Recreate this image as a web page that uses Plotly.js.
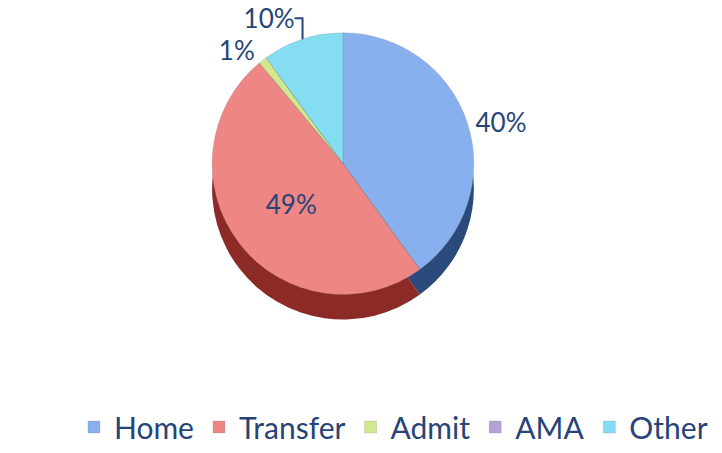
<!DOCTYPE html>
<html>
<head>
<meta charset="utf-8">
<script src="https://cdn.plot.ly/plotly-3.0.1.min.js"></script>
<style>
html,body{margin:0;padding:0;background:#fff;}
#chart{width:722px;height:453px;}
</style>
</head>
<body>
<div id="chart"></div>
<script>
const categories = ['Home', 'Transfer', 'Admit', 'AMA', 'Other'];
const values = [40, 49, 1, 0, 10];
const topColors = ['#88B0EE', '#EE8683', '#CFEA8C', '#B5A0D8', '#84DDF1'];
const sideColors = ['#2B4A7C', '#8C2A27', '#7E9A3E', '#5F4A80', '#2F8EA8'];
const labelPositions = ['outside', 'inside', 'outside', 'none', 'outside'];

const W = 722, H = 453;
const cx = 343, cy = 170, r = 136, depth = 26;
function dom(cxp, cyp, rp) {
  return {
    x: [(cxp - rp) / W, (cxp + rp) / W],
    y: [1 - (cyp + rp) / H, 1 - (cyp - rp) / H]
  };
}

const textColor = '#264478';
const fontFam = 'Lato, "Open Sans", sans-serif';

const sideTrace = {
  type: 'pie',
  labels: categories,
  values: values,
  sort: false,
  direction: 'clockwise',
  rotation: 0,
  domain: dom(cx, cy + depth, r),
  marker: {colors: sideColors, line: {width: 0}},
  textinfo: 'none',
  hoverinfo: 'skip',
  showlegend: false
};

const topTrace = {
  type: 'pie',
  labels: categories,
  values: values,
  sort: false,
  direction: 'clockwise',
  rotation: 0,
  domain: dom(cx, cy, r),
  marker: {colors: topColors, line: {color: 'rgba(120,120,120,0.35)', width: 0.6}},
  textinfo: 'percent',
  texttemplate: '%{percent:.0%}',
  textposition: labelPositions,
  insidetextorientation: 'horizontal',
  textfont: {family: fontFam, size: 26, color: textColor},
  outsidetextfont: {family: fontFam, size: 26, color: textColor},
  insidetextfont: {family: fontFam, size: 26, color: textColor}
};

const layout = {
  width: W,
  height: H,
  margin: {l: 0, r: 0, t: 0, b: 0},
  paper_bgcolor: '#ffffff',
  plot_bgcolor: '#ffffff',
  showlegend: true,
  legend: {
    orientation: 'h',
    x: 0.545,
    xanchor: 'center',
    y: 0.02,
    yanchor: 'middle',
    font: {family: fontFam, size: 30, color: textColor},
    traceorder: 'normal',
    itemclick: false
  }
};

Plotly.newPlot('chart', [sideTrace, topTrace], layout, {displayModeBar: false, staticPlot: true});
</script>
</body>
</html>
